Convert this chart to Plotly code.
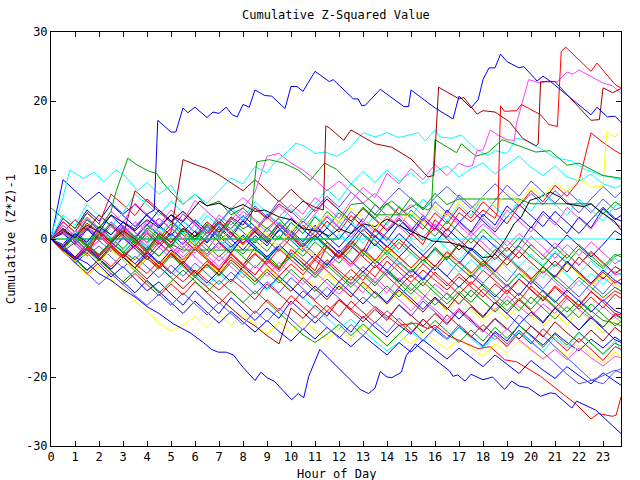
import plotly.graph_objects as go

RED = '#ff0000'; GREEN = '#00a000'; BLUE = '#0000ff'; MAGENTA = '#ff40ff'
CYAN = '#00ffff'; DARKRED = '#a00000'; YELLOW = '#ffff00'; MEDBLUE = '#5050ff'; BLACK = '#000000'

TITLE = "Cumulative Z-Squared Value"
X_LABEL = "Hour of Day"
Y_LABEL = "Cumulative (Z*Z)-1"
HOUR_TICKS = [0, 1, 2, 3, 4, 5, 6, 7, 8, 9, 10, 11, 12, 13, 14, 15, 16, 17, 18, 19, 20, 21, 22, 23]
Y_TICKS = [-30, -20, -10, 0, 10, 20, 30]

# half-hour sampling times
T_HALF = [0, 0.5, 1, 1.5, 2, 2.5, 3, 3.5, 4, 4.5, 5, 5.5, 6, 6.5, 7, 7.5, 8, 8.5, 9, 9.5,
          10, 10.5, 11, 11.5, 12, 12.5, 13, 13.5, 14, 14.5, 15, 15.5, 16, 16.5, 17, 17.5, 18, 18.5, 19, 19.5,
          20, 20.5, 21, 21.5, 22, 22.5, 23, 23.5, 23.75]

# ---- series sampled every half hour ----
m01 = [0,-1.8,-3.5,-2.0,-3.8,-5.5,-4.0,-5.8,-7.5,-6.2,
       -8.0,-9.6,-7.5,-9.2,-10.8,-8.5,-10.2,-11.8,-10.0,-11.5,
       -9.0,-10.6,-12.2,-10.5,-12.0,-13.5,-11.2,-12.8,-14.2,-12.5,
       -13.8,-11.6,-13.2,-14.6,-12.8,-14.2,-15.5,-13.4,-14.8,-12.5,
       -14.0,-15.4,-13.6,-15.0,-16.2,-14.5,-15.8,-14.2,-14.8]
m02 = [0,1.5,0.0,-1.6,0.8,-0.8,-2.4,-1.0,-2.6,-0.5,
       -2.0,-3.6,-1.5,-3.0,-4.5,-2.2,-3.8,-1.2,-2.8,-4.3,
       -2.0,-3.5,-5.0,-3.0,-4.6,-6.0,-4.0,-5.5,-3.2,-4.8,
       -6.3,-4.5,-6.0,-7.4,-5.5,-7.0,-8.4,-6.5,-8.0,-5.8,
       -7.3,-8.8,-6.8,-8.2,-9.6,-7.6,-9.0,-7.5,-8.0]
m03 = [0,-1.5,0.5,-1.0,1.8,0.2,-1.4,0.5,-1.0,-2.5,
       -0.5,1.5,0.0,-1.6,0.8,-0.7,-2.2,-0.2,-1.8,0.5,
       -1.0,-2.5,-0.4,-2.0,-3.5,-1.5,0.8,-0.8,-2.3,-0.5,
       -2.0,-3.6,-1.2,-2.8,-0.6,-2.2,-3.7,-1.5,-3.0,-1.0,
       -2.6,-4.0,-2.0,-3.5,-1.4,-2.9,-4.3,-2.5,-2.2]
m04 = [0,2.5,1.0,3.2,1.6,0.0,2.0,0.4,-1.2,0.5,
       -1.0,-2.6,-0.8,-2.4,-4.0,-2.0,-3.6,-5.2,-3.2,-4.8,
       -2.5,-4.0,-5.6,-3.4,-5.0,-6.5,-4.6,-6.2,-7.8,-5.6,
       -7.2,-8.6,-6.5,-8.0,-9.5,-7.4,-9.0,-10.4,-8.2,-9.8,
       -11.2,-9.4,-10.8,-8.6,-10.2,-11.6,-9.8,-11.3,-12.0]
m05 = [0,-1.8,-3.4,-1.5,-3.0,-1.0,-2.6,-4.2,-2.4,-4.0,
       -5.5,-3.6,-5.2,-6.8,-5.0,-6.5,-4.4,-6.0,-7.5,-5.5,
       -7.0,-8.5,-10.0,-11.5,-13.0,-11.6,-13.2,-14.8,-16.2,-15.0,
       -13.4,-14.9,-13.0,-14.6,-12.8,-14.4,-15.8,-14.0,-15.5,-13.4,
       -15.0,-16.4,-14.2,-15.8,-13.6,-15.2,-16.6,-14.8,-16.2]
m06 = [0,-1.8,-3.6,-5.2,-4.0,-5.8,-7.5,-9.0,-10.5,-12.2,
       -13.3,-12.5,-11.2,-12.8,-11.0,-12.5,-10.8,-12.4,-13.8,-12.0,
       -13.5,-11.8,-13.2,-14.6,-13.0,-14.5,-12.6,-14.0,-15.4,-13.8,
       -15.2,-13.5,-14.8,-16.0,-14.5,-15.8,-17.0,-15.2,-16.5,-14.8,
       -16.2,-17.5,-15.6,-17.0,-15.4,-16.8,-18.0,-16.4,-17.0]
m07 = [0,1.0,-0.8,-2.5,-1.0,-2.6,-4.2,-2.5,-4.0,-5.6,
       -3.8,-5.4,-3.5,-5.0,-6.6,-4.8,-6.4,-8.0,-6.2,-7.8,
       -5.6,-7.2,-8.8,-7.0,-8.6,-10.2,-8.4,-10.0,-11.5,-9.6,
       -11.2,-9.0,-10.6,-12.2,-10.5,-12.0,-13.5,-11.6,-13.2,-11.0,
       -12.6,-14.0,-15.6,-17.2,-18.8,-20.4,-21.0,-19.2,-18.8]
m08 = [0,-1.5,-3.0,-1.2,-2.8,-4.4,-2.6,-4.2,-5.8,-4.0,
       -5.6,-7.2,-5.5,-7.0,-8.6,-10.0,-11.5,-12.6,-14.0,-15.2,
       -10.0,-11.5,-9.6,-11.2,-8.8,-10.4,-12.0,-10.2,-11.8,-9.5,
       -11.0,-12.6,-10.8,-12.4,-10.2,-11.8,-13.3,-11.5,-13.0,-14.5,
       -12.6,-14.2,-12.0,-13.6,-15.0,-13.2,-14.8,-12.8,-13.5]
m09 = [0,-1.2,-2.8,-4.5,-3.0,-4.6,-6.2,-7.8,-6.0,-7.6,
       -9.2,-10.8,-9.0,-10.6,-12.2,-10.5,-12.0,-13.5,-11.8,-13.4,
       -14.8,-13.0,-14.5,-12.8,-14.2,-15.6,-14.0,-15.4,-16.8,-15.0,
       -16.4,-14.6,-16.0,-17.4,-15.8,-17.2,-18.5,-16.8,-18.2,-19.5,
       -17.6,-19.0,-20.2,-18.5,-19.8,-21.0,-19.4,-20.6,-21.2]
m10 = [0,3.0,1.5,4.2,2.6,5.0,3.4,1.8,3.5,2.0,
       0.5,2.6,1.0,-0.6,1.5,0.0,-1.6,0.5,-1.0,1.4,
       -0.2,-1.8,0.4,-1.2,-2.8,-1.0,-2.5,0.5,-1.0,-2.6,
       -0.8,-2.4,-4.0,-2.0,-3.6,-1.5,-3.0,-4.6,-2.8,-4.4,
       -6.0,-4.0,-5.5,-3.2,-4.8,-6.4,-4.5,-6.0,-6.5]
m11 = [0,2.5,1.0,3.8,2.2,6.5,5.0,3.4,5.8,4.2,
       2.6,4.0,2.4,0.8,2.5,0.8,-0.8,1.5,-0.2,-1.8,
       0.2,-1.4,-3.0,-1.2,-2.8,-1.0,-2.6,-4.2,-2.5,-4.0,
       -5.6,-3.6,-5.2,-6.8,-5.0,-6.6,-4.5,-6.0,-7.6,-5.8,
       -7.4,-9.0,-7.0,-8.6,-10.2,-8.4,-10.0,-8.0,-8.6]
m12 = [4.5,3.0,1.5,3.8,2.2,0.6,2.5,1.0,-0.5,1.8,
       0.2,-1.4,0.6,-1.0,-2.6,-1.0,-2.6,-4.2,-2.4,-4.0,
       -2.0,-3.6,-5.2,-3.4,-5.0,-6.6,-4.8,-6.4,-4.4,-6.0,
       -7.5,-5.6,-7.2,-8.8,-6.8,-8.4,-6.5,-8.0,-9.6,-7.8,
       -9.4,-7.4,-9.0,-10.6,-8.8,-10.4,-11.8,-12.2,-12.6]
m13 = [0,-1.0,-2.6,-1.2,0.8,-0.8,2.5,1.0,-0.6,1.2,
       -0.4,-2.0,0.0,-1.6,-3.2,-1.5,0.5,-1.0,-2.6,-1.0,
       0.6,-1.0,-2.6,-4.2,-2.5,-4.0,-2.0,-3.6,-5.2,-3.5,
       -5.0,-3.0,-4.6,-2.5,-4.0,-5.6,-3.8,-5.4,-7.0,-5.0,
       -6.6,-4.6,-6.2,-7.8,-6.0,-7.6,-5.5,-7.0,-7.6]
m14 = [0,-1.6,-0.2,-1.8,0.6,-1.0,1.8,0.2,-1.4,0.5,
       2.8,1.2,-0.4,1.5,0.0,-1.6,0.4,-1.2,-2.8,-1.0,
       -2.6,-0.5,1.8,0.2,2.5,1.0,-0.6,1.2,-0.4,-2.0,
       -0.2,-1.8,0.2,-1.4,-3.0,-1.2,-2.8,-0.8,-2.4,-4.0,
       -2.2,-3.8,-1.8,-3.4,-5.0,-3.2,-4.8,-2.8,-3.4]
m15 = [0,-1.4,0.5,-1.0,-2.6,-0.8,-2.4,-4.0,-2.2,-3.8,
       -1.8,-3.4,-5.0,-3.3,-4.9,-2.8,-4.4,-6.0,-4.2,-5.8,
       -7.4,-5.4,-7.0,-5.0,-6.6,-8.2,-6.4,-8.0,-9.6,-7.6,
       -9.2,-7.2,-8.8,-10.4,-8.6,-10.2,-11.8,-10.0,-11.6,-9.5,
       -11.0,-12.6,-10.8,-12.4,-10.4,-12.0,-13.6,-11.8,-12.2]
m16 = [0,2.0,0.4,2.8,1.2,-0.4,1.6,0.0,2.2,0.6,
       -1.0,1.0,-0.6,-2.2,-0.4,-2.0,0.2,-1.4,-3.0,-1.2,
       -2.8,-0.6,-2.2,-3.8,-2.0,-3.6,-1.4,-3.0,-4.6,-2.6,
       -4.2,-5.8,-3.8,-5.4,-3.2,-4.8,-6.4,-4.6,-6.2,-4.0,
       -5.6,-7.2,-5.2,-6.8,-8.4,-6.4,-8.0,-6.0,-6.6]
m17 = [0,-1.6,-3.2,-1.5,-3.0,-1.2,-2.8,-0.8,-2.4,-4.0,
       -2.2,-3.8,-5.4,-3.6,-5.2,-3.0,-4.6,-6.2,-4.4,-6.0,
       -7.6,-5.6,-7.2,-8.8,-6.8,-8.4,-6.2,-7.8,-9.4,-7.4,
       -9.0,-10.6,-8.6,-10.2,-8.0,-9.6,-11.2,-9.2,-10.8,-8.8,
       -10.4,-12.0,-10.0,-11.6,-13.2,-11.2,-12.8,-10.8,-11.4]
m18 = [0,8.6,7.0,5.4,6.8,5.2,3.6,5.0,3.4,1.8,
       3.5,1.9,0.3,2.0,0.4,-1.2,0.6,-1.0,-2.6,-0.8,
       -2.4,-4.0,-2.2,-3.8,-1.6,-3.2,-4.8,-3.0,-4.6,-6.2,
       -4.4,-6.0,-3.8,-5.4,-7.0,-5.2,-6.8,-8.4,-6.6,-8.2,
       -6.0,-7.6,-9.2,-7.4,-9.0,-10.6,-8.8,-10.4,-10.8]
m19 = [0,-1.8,-3.4,-5.0,-3.4,-5.0,-6.6,-5.0,-6.6,-8.2,
       -6.5,-8.1,-6.2,-7.8,-9.4,-7.6,-9.2,-10.8,-8.8,-10.4,
       -8.2,-9.8,-11.4,-9.6,-11.2,-9.0,-10.6,-12.2,-10.4,-12.0,
       -13.6,-11.6,-13.2,-11.0,-12.6,-14.2,-12.4,-14.0,-15.6,-13.6,
       -15.2,-13.0,-14.6,-16.2,-14.4,-16.0,-17.6,-15.6,-16.0]
m20 = [0,-1.4,-3.0,-4.6,-3.0,-4.6,-6.2,-4.6,-6.2,-7.8,
       -6.2,-4.5,-6.1,-7.7,-6.0,-7.6,-9.2,-7.5,-9.1,-10.7,
       -12.3,-13.9,-15.0,-13.8,-12.4,-14.0,-12.3,-13.9,-15.5,-13.8,
       -12.0,-13.6,-11.8,-13.4,-15.0,-13.2,-14.8,-12.8,-14.4,-12.5,
       -14.1,-15.7,-13.8,-15.4,-13.5,-15.1,-16.7,-15.1,-15.5]
m21 = [0,1.6,0.0,-1.6,-0.2,1.8,0.2,-1.4,0.4,-1.2,
       -2.8,-1.0,-2.6,-4.2,-2.4,-4.0,-5.6,-3.8,-5.4,-3.4,
       -5.0,-6.6,-4.8,-6.4,-8.0,-6.2,-7.8,-5.6,-7.2,-8.8,
       -10.4,-8.6,-10.2,-11.8,-10.0,-11.6,-13.2,-14.6,-13.0,-14.6,
       -16.0,-17.4,-16.0,-17.5,-15.8,-17.2,-18.4,-17.0,-17.2]
m22 = [0,3.5,2.0,5.0,3.4,1.8,3.8,6.5,5.0,3.4,
       5.5,3.8,2.2,4.0,2.4,0.8,2.8,1.2,-0.4,1.5,
       -0.1,-1.7,0.2,-1.4,0.8,-0.8,-2.4,-0.6,-2.2,-3.8,
       -2.0,-3.6,-1.6,-3.2,-4.8,-3.0,-4.6,-2.6,-4.2,-5.8,
       -4.0,-5.6,-3.6,-5.2,-6.8,-5.0,-6.6,-4.6,-5.2]
m23 = [0,1.2,-0.4,2.2,0.6,-1.0,0.8,-0.8,1.5,-0.1,
       2.4,0.8,-0.8,1.0,-0.6,-2.2,-0.4,-2.0,0.4,-1.2,
       -2.8,-1.0,-2.6,-0.4,-2.0,-3.6,-1.8,-3.4,-1.2,-2.8,
       -4.4,-2.6,-4.2,-2.0,-3.6,-5.2,-3.4,-5.0,-2.8,-4.4,
       -6.0,-4.2,-5.8,-3.6,-5.2,-6.8,-5.0,-6.6,-7.0]
m24 = [0,-1.0,-2.6,-0.8,-2.4,-0.4,-2.0,-3.6,-1.8,-3.4,
       -5.0,-3.2,-4.8,-6.4,-4.6,-6.2,-4.0,-5.6,-7.2,-5.4,
       -7.0,-8.6,-6.8,-8.4,-6.2,-7.8,-9.4,-7.6,-9.2,-7.0,
       -8.6,-10.2,-8.4,-10.0,-11.6,-9.8,-11.4,-9.2,-10.8,-12.4,
       -10.6,-12.2,-10.0,-11.6,-13.2,-11.4,-13.0,-14.6,-15.0]
m25 = [0,-0.8,1.2,-0.4,1.6,3.4,1.8,0.2,2.0,4.2,
       2.6,1.0,2.8,1.2,-0.4,1.5,3.4,1.8,0.2,2.2,
       0.6,-1.0,1.2,-0.4,-2.0,-0.2,2.0,0.4,-1.2,0.8,
       -0.8,-2.4,-0.6,1.5,-0.1,-1.7,0.5,-1.1,-2.7,-0.8,
       1.8,0.2,-1.4,0.6,-1.0,-2.6,-0.8,1.2,0.6]
m26 = [0,-1.5,-3.1,-1.4,-3.0,-1.0,-2.6,-4.2,-2.4,-4.0,
       -2.0,-3.6,-1.2,-2.8,-4.4,-2.6,-4.2,-2.2,-3.8,-5.4,
       -3.6,-5.2,-3.0,-4.6,-6.2,-4.4,-6.0,-3.8,-5.4,-7.0,
       -5.2,-6.8,-4.8,-6.4,-8.0,-6.2,-7.8,-9.4,-7.4,-9.0,
       -6.8,-8.4,-10.0,-8.2,-9.8,-7.6,-9.2,-10.8,-11.0]
m27 = [0,-1.8,-3.4,-5.0,-6.6,-5.0,-6.6,-8.2,-9.6,-8.0,
       -9.6,-7.8,-9.4,-11.0,-9.2,-10.8,-12.4,-10.4,-12.0,-10.0,
       -11.6,-13.2,-11.2,-12.8,-14.4,-12.4,-14.0,-12.0,-13.6,-11.5,
       -13.1,-14.7,-12.8,-14.4,-12.4,-14.0,-15.6,-13.6,-15.2,-13.2,
       -14.8,-16.4,-18.0,-19.6,-21.0,-20.5,-19.8,-19.0,-19.4]
m28 = [0,1.0,2.8,1.2,3.5,2.0,0.4,7.0,5.5,4.0,
       2.4,4.0,2.4,0.8,2.6,1.0,-0.6,1.2,-0.4,2.0,
       0.4,-1.2,0.6,-1.0,-2.6,-0.8,1.4,-0.2,-1.8,0.0,
       -1.6,-3.2,-1.4,-3.0,-0.8,-2.4,-4.0,-2.2,-3.8,-1.8,
       -3.4,-5.0,-3.2,-4.8,-2.6,-4.2,-5.8,-4.0,-4.5]
m29 = [0,-1.6,-3.2,-1.6,-3.2,-1.4,-3.0,-4.6,-2.8,-4.4,
       -2.4,-4.0,-5.6,-3.8,-5.4,-3.4,-5.0,-6.6,-4.8,-6.4,
       -4.4,-6.0,-7.6,-5.8,-7.4,-5.4,-7.0,-8.6,-6.8,-8.4,
       -6.4,-8.0,-9.6,-7.8,-9.4,-7.4,-9.0,-10.6,-8.8,-10.4,
       -8.4,-10.0,-11.6,-9.8,-11.4,-9.4,-11.0,-12.6,-12.0]
m30 = [0,2.0,0.4,3.0,1.4,4.0,2.4,5.2,3.6,2.0,
       4.2,2.6,5.6,4.0,2.4,4.4,6.0,4.4,2.8,4.8,
       3.2,1.6,3.6,5.8,4.2,2.6,4.6,3.0,1.4,3.4,
       1.8,0.2,2.2,0.6,-1.0,1.0,-0.6,-2.2,-0.2,-1.8,
       0.4,-1.2,-2.8,-0.8,-2.4,-0.4,-2.0,-3.6,-3.0]
m31 = [0,-1.0,1.2,-0.4,1.6,0.0,-1.6,0.6,-1.0,1.8,
       0.2,2.6,1.0,3.4,1.8,4.6,3.0,5.4,3.8,2.2,
       4.4,2.8,5.0,7.2,5.6,8.0,9.8,8.2,10.0,8.4,
       9.6,8.0,9.8,10.6,9.0,10.2,11.0,9.4,10.8,12.0,
       10.4,9.2,10.6,9.0,8.4,9.4,8.0,7.4,7.8]
m32 = [0,1.4,-0.2,1.8,0.2,2.5,0.9,-0.7,1.4,3.0,
       1.4,3.6,2.0,0.4,2.4,4.2,2.6,4.8,3.2,5.6,
       4.0,2.4,4.4,6.2,4.6,6.8,5.2,3.6,5.6,7.4,
       5.8,4.2,6.0,7.6,6.0,4.4,6.2,8.0,6.4,4.8,
       6.6,5.0,7.0,5.4,3.8,5.8,7.6,6.0,6.8]
m33 = [0,0.8,-0.8,1.4,-0.2,-1.8,0.2,-1.4,-3.0,-1.2,
       0.8,-0.8,1.2,-0.4,1.8,0.2,2.6,1.0,-0.6,1.2,
       3.0,1.4,-0.2,1.6,0.0,2.2,0.6,-1.0,1.0,2.8,
       1.2,3.4,1.8,0.2,2.4,4.2,2.6,1.0,3.2,5.0,
       3.4,1.8,4.0,2.4,0.8,2.8,4.6,3.0,2.6]
m34 = [0,-1.2,0.8,-0.8,-2.4,-0.6,1.4,-0.2,-1.8,0.2,
       -1.4,-3.0,-1.0,-2.6,-0.6,-2.2,-3.8,-2.0,-3.6,-1.4,
       -3.0,-4.6,-2.8,-0.5,-2.1,-3.7,-1.6,-3.2,-1.0,-2.6,
       -4.2,-2.4,-4.0,-1.8,-3.4,-5.0,-3.2,-4.8,-2.6,-4.2,
       -5.8,-4.0,-5.6,-3.4,-5.0,-6.6,-4.8,-6.4,-5.8]
m35 = [0,-1.2,0.6,-1.0,-2.6,-0.8,-2.4,-0.6,1.2,-0.4,
       1.6,0.0,-1.6,0.4,2.2,0.6,2.8,1.2,3.6,2.0,
       0.4,2.6,1.0,3.2,1.6,4.0,2.4,5.0,3.4,1.8,
       4.2,2.6,5.4,3.8,6.4,4.8,3.2,5.6,7.8,6.2,
       8.4,6.8,5.2,7.0,5.4,3.8,5.8,4.2,4.6]
m36 = [0,-1.4,-3.0,-1.2,-2.8,-4.4,-2.6,-4.2,-2.0,-3.6,
       -1.6,-3.2,-1.0,-2.6,-0.4,-2.0,0.2,-1.4,-3.0,-1.0,
       1.2,-0.4,2.0,0.4,-1.2,0.8,3.0,1.4,-0.2,2.2,
       0.6,3.0,1.4,4.2,2.6,1.0,3.6,2.0,4.8,3.2,
       1.6,4.0,2.4,0.8,3.2,1.6,4.4,2.8,3.4]
m37 = [0,1.2,-0.4,-2.0,-0.2,-1.8,0.4,-1.2,1.0,-0.6,
       -2.2,-0.4,-2.0,0.2,-1.4,0.8,-0.8,1.6,0.0,2.2,
       0.6,-1.0,1.2,3.4,1.8,0.2,2.6,1.0,3.4,1.8,
       0.2,2.8,1.2,4.0,2.4,0.8,3.0,1.4,4.2,2.6,
       1.0,3.6,2.0,4.6,3.0,1.4,3.8,2.2,1.8]
m38 = [0,-1.0,0.8,-0.8,1.2,-0.4,-2.0,-0.2,-1.8,0.4,
       -1.2,1.0,-0.6,1.8,0.2,2.6,1.0,-0.6,1.6,0.0,
       2.4,0.8,3.4,1.8,4.2,2.6,1.0,3.6,2.0,4.8,
       3.2,5.8,4.2,2.6,5.0,3.4,6.2,4.6,3.0,5.6,
       4.0,6.6,5.0,3.4,5.8,4.2,2.6,4.8,5.2]
dr2 = [0,1.2,-0.4,1.6,0.0,2.2,0.6,-1.0,0.8,-0.8,
       1.0,11.5,10.8,10.2,9.3,8.2,7.0,8.6,7.0,5.4,
       7.2,5.6,4.0,5.8,4.2,2.6,4.4,2.8,1.2,3.0,
       1.4,-0.2,1.6,0.0,-1.6,0.2,-1.4,-3.0,-1.2,-2.8,
       -0.8,-2.4,-4.0,-2.2,-3.8,-1.8,-3.4,-5.0,-4.4]
mg2 = [0,-1.2,0.6,-1.0,1.4,-0.2,1.8,0.2,2.6,1.0,
       -0.6,1.4,-0.2,2.0,0.4,2.8,4.5,6.8,12.0,12.4,
       11.0,10.0,8.6,7.0,8.4,6.8,5.2,6.6,5.0,3.4,
       5.0,3.4,1.8,3.6,2.0,0.4,2.2,0.6,-1.0,0.8,
       -0.8,-2.4,-0.6,-2.2,-3.8,-2.0,-3.6,-5.2,-5.0]
rd2 = [0,-1.0,0.8,-0.8,-2.4,-0.6,1.2,-0.4,-2.0,-0.2,
       1.6,0.0,-1.6,0.2,2.4,0.8,-0.8,1.0,3.2,1.6,
       0.0,2.0,0.4,2.6,1.0,3.4,1.8,0.2,2.4,4.6,
       3.0,1.4,3.8,2.2,4.6,3.0,5.4,3.8,2.2,4.8,
       7.0,5.4,7.8,6.2,8.4,15.4,14.0,12.8,12.3]
gr2 = [0,-1.2,0.3,-0.8,-2.2,-0.5,-1.8,-3.0,-1.2,-2.5,
       -0.8,-1.6,-1.6,-1.6,-1.6,-1.6,-1.6,-1.6,-2.8,-4.2,
       -2.5,-4.0,-5.6,-3.8,-5.4,-7.0,-5.2,-6.8,-4.8,-6.4,
       -8.0,-6.2,-7.8,-9.4,-7.6,-9.2,-7.2,-8.8,-10.4,-8.6,
       -10.2,-8.2,-9.8,-11.4,-9.6,-11.2,-12.8,-11.0,-11.5]
gr3 = [0,1.5,0.0,-1.6,0.4,-1.2,1.0,-0.6,1.6,0.0,
       2.2,0.6,-1.0,1.0,3.0,1.4,-0.2,1.8,0.2,2.4,
       0.8,3.0,1.4,4.0,2.4,5.0,5.2,3.5,3.5,3.5,
       3.5,2.0,0.4,2.6,1.0,-0.6,1.4,-0.2,-1.8,0.2,
       -1.4,-3.0,-1.2,-2.8,-0.8,-2.4,-4.0,-2.2,-2.6]
gr4 = [0,-1.4,0.4,-1.2,1.2,-0.4,-2.0,-0.2,-1.8,0.4,
       -1.2,1.4,-0.2,1.8,0.2,2.6,1.0,-0.6,1.6,0.0,
       2.4,0.8,3.2,1.6,3.8,2.2,4.6,3.0,5.2,3.6,
       6.0,4.4,6.6,5.0,5.8,5.8,5.8,5.8,5.8,5.8,
       5.1,5.1,5.1,5.1,5.1,5.1,3.6,5.4,4.8]

# ---- series traced vertex by vertex (hour, value) ----
top_blue = [(0,0),(0.5,-1.2),(1,0.8),(1.5,-0.5),(2,1.8),(2.5,0.6),(3,2.5),(3.5,1.4),(4,3.6),(4.3,4.2),
            (4.45,17.2),(5.0,15.5),(5.2,15.5),(5.5,19.0),(5.7,18.3),(6.0,19.1),(6.5,17.6),(6.75,18.4),(7.0,18.2),
            (7.3,19.1),(7.55,18.0),(7.76,17.7),(8.0,19.5),(8.26,19.1),(8.5,21.6),(8.9,20.8),(9.2,20.7),(9.75,18.9),
            (10.0,22.1),(10.25,22.1),(10.5,21.4),(11.0,24.3),(11.2,23.8),(11.6,22.8),(11.76,23.1),(12.6,20.3),
            (12.8,20.3),(12.95,19.3),(13.1,19.4),(13.72,21.7),(14.7,19.2),(14.9,19.2),(15.0,21.6),(16.0,19.0),
            (16.75,17.4),(17.0,20.7),(17.5,19.0),(17.8,20.2),(18.0,23.1),(18.25,24.8),(18.5,24.8),(18.73,26.8),
            (19.0,25.7),(19.5,24.8),(19.7,25.0),(20.25,22.9),(20.5,23.6),(20.75,23.0),(22.5,18.0),(22.75,19.1),
            (23.18,17.7),(23.5,17.8),(23.75,16.9)]
bottom_blue = [(0,0),(0.5,-1.5),(1,-2.6),(1.5,-3.5),(2,-5.0),(2.5,-6.0),(3,-7.3),(3.5,-8.4),(4,-9.8),(4.5,-10.8),
               (5.1,-12.3),(5.8,-13.6),(6.35,-15.0),(6.69,-16.0),(6.97,-16.4),(7.3,-16.4),(7.6,-16.8),(8.0,-18.6),
               (8.5,-20.5),(8.75,-19.3),(9.0,-20.1),(9.3,-20.6),(10.03,-23.3),(10.3,-22.4),(10.53,-23.0),
               (10.74,-19.9),(11.0,-17.7),(11.2,-16.0),(11.63,-17.5),(12.88,-21.8),(13.23,-22.4),(13.5,-21.6),
               (13.72,-19.2),(14.0,-20.0),(14.2,-20.1),(14.6,-19.3),(14.8,-16.9),(15.18,-15.2),(16.6,-19.1),
               (16.75,-19.9),(16.95,-19.7),(17.25,-20.6),(17.5,-19.6),(18.0,-20.4),(18.4,-20.0),(18.9,-21.8),
               (19.2,-20.6),(19.5,-21.3),(19.9,-21.6),(20.4,-22.8),(20.8,-22.3),(21.0,-22.4),(21.7,-24.5),
               (21.9,-23.5),(22.7,-24.8),(23.4,-27.0),(23.75,-28.2)]
top_red = [(0,0),(0.5,-1.8),(1,-0.5),(1.5,-2.2),(2,0.8),(2.5,-0.9),(3,-2.5),(3.5,-1.0),(4,-2.8),(4.5,-4.2),
           (5,-2.0),(5.5,-3.5),(6,-5.0),(6.5,-3.2),(7,-4.6),(7.5,-2.1),(8,-3.8),(8.5,-5.2),(9,-3.0),(9.5,-4.5),
           (10,-1.5),(10.5,-3.0),(11,-4.6),(11.5,-1.0),(12,-2.6),(12.5,-0.2),(13,-1.8),(13.5,1.5),(14,0.2),
           (14.5,-1.5),(15,0.8),(15.5,-0.8),(16,2.8),(16.5,1.2),(17,3.8),(17.5,2.5),(18,4.2),(18.5,3.0),
           (18.62,4.0),(18.73,19.3),(18.9,18.5),(19.4,18.6),(19.6,19.5),(20.4,18.0),(20.74,16.6),(21.1,16.3),
           (21.26,27.2),(21.45,27.8),(22.5,24.3),(22.75,25.5),(23.5,22.4),(23.75,21.9)]
top_darkred = [(0,0),(0.5,1.5),(1,0.2),(1.5,2.3),(2,1.0),(2.5,-0.5),(3,1.2),(3.5,0.0),(4,-1.6),(4.5,0.8),
               (5,-0.5),(5.5,1.6),(6,0.4),(6.5,2.5),(7,1.0),(7.5,3.2),(8,2.0),(8.5,4.5),(9,3.0),(9.5,5.1),
               (10,3.8),(10.5,5.5),(11,4.6),(11.35,4.2),(11.45,16.4),(11.6,16.1),(12.2,14.3),(12.5,15.8),
               (13.5,13.8),(14.2,13.3),(15.0,11.6),(15.7,9.0),(15.95,9.2),(16.15,22.0),(16.5,21.3),(17.0,20.3),
               (17.2,20.5),(17.75,18.1),(18.0,18.6),(18.5,18.4),(19.1,17.0),(19.65,14.6),(20.2,13.5),(20.3,13.8),
               (20.4,22.8),(21.0,22.8),(22.5,17.2),(22.85,17.3),(23.0,21.9),(23.4,21.2),(23.75,21.8)]
top_magenta = [(0,0),(0.5,1.2),(1,-0.3),(1.5,1.8),(2,0.5),(2.5,-1.0),(3,0.6),(3.5,2.5),(4,1.1),(4.5,3.0),
               (5,1.5),(5.5,0.0),(6,2.2),(6.5,0.8),(7,3.5),(7.5,2.0),(8,4.0),(8.5,2.6),(9,1.0),(9.5,3.2),
               (10,5.0),(10.5,3.6),(11,6.0),(11.5,4.5),(12,3.0),(12.5,5.5),(13,7.5),(13.5,6.0),(14,9.5),
               (14.5,8.0),(15,10.2),(15.5,8.6),(16,10.8),(16.5,9.2),(17,11.0),(17.3,10.5),(17.55,10.6),
               (17.75,12.8),(18.0,12.9),(18.3,15.8),(18.7,14.9),(19.0,14.4),(19.3,14.3),(19.4,16.8),(19.9,23.1),
               (20.4,22.6),(20.7,22.9),(21.1,22.8),(21.5,24.2),(21.75,23.9),(22.0,24.5),(23.0,22.6),(23.4,22.2),
               (23.75,21.1)]
top_cyan = [(0,0.5),(0.5,6.0),(0.78,10.0),(1.35,8.8),(1.8,9.7),(2.2,8.3),(2.7,10.0),(3.1,9.1),(3.6,7.0),
            (4.0,8.2),(4.5,6.5),(5.0,7.8),(5.5,5.0),(6.0,6.5),(6.5,5.2),(7.0,7.0),(7.5,8.8),(8.0,8.0),
            (8.5,10.5),(9.0,9.6),(9.3,11.0),(9.82,12.5),(10.2,13.9),(10.6,13.4),(11.0,12.4),(11.4,12.6),
            (11.9,12.0),(12.4,13.0),(13.0,15.4),(13.5,14.8),(14.0,15.4),(14.5,14.7),(15.3,15.4),(15.6,14.2),
            (16.0,15.8),(16.2,14.8),(16.7,14.6),(17.1,15.1),(17.7,13.0),(18.2,12.1),(18.5,12.8),(19.0,12.4),
            (19.4,14.6),(19.7,14.4),(20.3,13.3),(21.0,11.8),(21.7,11.3),(22.3,10.0),(23.0,9.2),(23.75,8.6)]
early_green = [(0,0),(0.5,1.5),(1,0.2),(1.5,2.8),(2,1.5),(2.5,4.0),(2.7,6.8),(3.2,11.7),(3.6,10.7),(4.1,9.8),
               (4.4,9.5),(4.7,8.0),(5.0,6.8),(5.5,5.0),(6.0,6.5),(6.5,4.8),(7.0,5.5),(7.5,3.5),(8.0,4.5),
               (8.5,2.8),(9.0,1.5),(9.5,3.0),(10.0,1.0),(10.5,-0.8),(11.0,0.5),(11.5,-1.2),(12.0,-2.5),
               (12.5,-0.5),(13.0,-2.0),(13.5,-3.6),(14.0,-1.8),(14.5,-3.3),(15.0,-4.8),(15.5,-3.0),(16.0,-4.5),
               (16.5,-2.5),(17.0,-4.0),(17.5,-5.5),(18.0,-3.5),(18.5,-5.2),(19.0,-6.8),(19.5,-5.0),(20.0,-6.5),
               (20.5,-4.0),(21.0,-5.8),(21.5,-7.3),(22.0,-5.5),(22.5,-7.0),(23.0,-8.5),(23.5,-7.0),(23.75,-7.5)]
upper_green = [(0,0),(0.5,-1.5),(1,0.5),(1.5,-1.0),(2,1.2),(2.5,-0.3),(3,1.8),(3.5,0.3),(4,2.0),(4.5,0.5),
               (5,-1.0),(5.5,1.5),(6,0.0),(6.5,2.2),(7,0.8),(7.5,3.0),(8.0,1.5),(8.3,2.0),(8.57,11.2),(9.1,11.5),
               (9.7,11.0),(10.3,10.0),(10.8,8.5),(11.4,11.0),(11.9,10.1),(12.5,8.0),(13.0,6.5),(13.7,4.4),
               (14.2,5.5),(14.7,4.0),(15.2,5.0),(15.7,4.2),(15.85,4.6),(16.0,14.4),(16.9,12.5),(17.1,13.8),
               (17.7,12.0),(18.2,12.5),(18.8,14.4),(19.6,13.4),(20.2,12.6),(20.8,12.8),(21.5,10.7),(22.0,11.0),
               (23.0,9.2),(23.4,9.0),(23.75,8.8)]
late_yellow = [(0,0),(0.5,-1.8),(1,-3.2),(1.5,-2.0),(2,-3.5),(2.5,-1.5),(3,-3.0),(3.5,-4.5),(4,-2.8),(4.5,-4.2),
               (5,-1.8),(5.5,-3.2),(6,-1.0),(6.5,-2.6),(7,-0.5),(7.5,1.5),(8,0.0),(8.5,2.0),(9,0.6),(9.5,-1.0),
               (10,1.2),(10.5,3.0),(11,1.5),(11.5,3.8),(12,2.4),(12.5,4.5),(13,3.0),(13.5,1.5),(14,3.5),
               (14.5,2.0),(15,4.0),(15.5,2.4),(16,4.8),(16.5,3.2),(17,5.5),(17.5,4.0),(18,6.2),(18.5,4.6),
               (19,6.8),(19.5,5.2),(20,7.5),(20.5,6.0),(21,8.2),(21.5,6.8),(22,8.8),(22.5,7.5),(23.0,7.7),
               (23.15,15.5),(23.5,14.8),(23.75,15.6)]
low_red = [(0,0),(0.5,-1.5),(1,-2.8),(1.5,-1.2),(2,-2.5),(2.5,-4.0),(3,-2.2),(3.5,-3.6),(4,-5.0),(4.5,-3.2),
           (5,-4.8),(5.5,-6.2),(6,-4.5),(6.5,-6.0),(7,-7.4),(7.5,-5.8),(8,-7.2),(8.5,-8.8),(9,-6.5),(9.5,-8.0),
           (10,-9.5),(10.5,-7.5),(11,-9.0),(11.5,-10.5),(12,-8.8),(12.5,-10.2),(13,-11.5),(13.5,-9.8),
           (14,-11.2),(14.5,-12.5),(15.2,-12.2),(15.7,-13.0),(16.0,-12.5),(16.6,-14.1),(17.2,-15.0),
           (17.8,-15.9),(18.3,-15.6),(18.9,-17.5),(19.4,-17.8),(19.9,-18.8),(20.4,-19.9),(21.2,-22.1),
           (21.9,-24.0),(22.5,-26.1),(22.8,-25.3),(23.4,-25.7),(23.55,-25.5),(23.75,-22.9)]
black_line = [(0,0),(0.5,1.2),(1.0,0.2),(1.5,2.0),(2.0,1.0),(2.5,3.5),(3.0,2.4),(3.5,1.2),(4.0,2.8),(4.5,1.6),
              (5.0,3.5),(5.5,2.5),(6.2,5.5),(6.5,4.8),(7.0,5.2),(7.5,4.3),(8.0,5.0),(8.5,4.0),(8.9,4.2),
              (9.5,3.2),(10.0,2.8),(10.5,1.5),(11.2,1.1),(11.6,0.4),(12.0,1.5),(12.5,0.8),(13.0,2.2),(13.5,1.8),
              (14.0,2.9),(15.0,1.1),(15.9,-0.3),(16.6,-0.5),(17.6,-1.5),(18.0,-2.7),(18.4,-2.5),(18.9,-0.2),
              (19.3,2.2),(19.6,3.2),(19.95,5.6),(20.4,6.1),(20.8,6.8),(21.2,6.1),(21.5,5.1),(22.2,4.7),
              (22.5,5.1),(23.0,3.7),(23.5,2.5),(23.75,1.3)]
flat_cyan = [(0,0),(23.75,0)]
flat_green = [(0,0),(12.0,0)]

GRID_SERIES = [
    ("m01", m01, BLUE), ("m02", m02, RED), ("m03", m03, GREEN), ("m04", m04, MAGENTA),
    ("m05", m05, CYAN), ("m06", m06, YELLOW), ("m07", m07, MEDBLUE), ("m08", m08, DARKRED),
    ("m09", m09, BLUE), ("m10", m10, BLUE), ("m11", m11, RED), ("m12", m12, GREEN),
    ("m13", m13, MAGENTA), ("m14", m14, CYAN), ("m15", m15, YELLOW), ("m16", m16, MEDBLUE),
    ("m17", m17, DARKRED), ("m18", m18, BLUE), ("m19", m19, RED), ("m20", m20, GREEN),
    ("m21", m21, MAGENTA), ("m22", m22, CYAN), ("m23", m23, YELLOW), ("m24", m24, BLUE),
    ("m25", m25, BLUE), ("m26", m26, RED), ("m27", m27, MEDBLUE), ("m28", m28, DARKRED),
    ("m29", m29, GREEN), ("m30", m30, MAGENTA), ("m31", m31, CYAN), ("m32", m32, MEDBLUE),
    ("m33", m33, BLUE), ("m34", m34, RED), ("m35", m35, MEDBLUE), ("m36", m36, BLUE),
    ("m37", m37, MAGENTA), ("m38", m38, CYAN), ("dr2", dr2, DARKRED), ("mg2", mg2, MAGENTA),
    ("rd2", rd2, RED), ("gr2", gr2, GREEN), ("gr3", gr3, GREEN), ("gr4", gr4, GREEN),
]
FLAT_SERIES = [(flat_cyan, CYAN), (flat_green, GREEN)]
TRACED_SERIES = [
    (early_green, GREEN), (top_cyan, CYAN), (black_line, BLACK), (late_yellow, YELLOW),
    (upper_green, GREEN), (low_red, RED), (top_magenta, MAGENTA), (top_darkred, DARKRED),
    (top_red, RED), (bottom_blue, BLUE), (top_blue, BLUE),
]

fig = go.Figure()

def add_line(xs, ys, color):
    fig.add_trace(go.Scatter(x=xs, y=ys, mode="lines", line=dict(color=color, width=1),
                             hoverinfo="skip", showlegend=False))

for name, vals, color in GRID_SERIES:
    if len(vals) != len(T_HALF):
        raise ValueError(f"{name} has {len(vals)} values")
    add_line(T_HALF, vals, color)

for pts, color in FLAT_SERIES + TRACED_SERIES:
    add_line([p[0] for p in pts], [p[1] for p in pts], color)

FONT = "DejaVu Sans Mono"
axis_common = dict(showgrid=False, zeroline=False, showline=True, linecolor="black", linewidth=1,
                   mirror="ticks", ticks="inside", ticklen=5, tickcolor="black", tickwidth=1,
                   tickfont=dict(family=FONT, size=12, color="black"))

fig.update_layout(
    width=640, height=480,
    margin=dict(l=51, r=19, t=32, b=34),
    paper_bgcolor="white", plot_bgcolor="white",
    hovermode=False,
    xaxis=dict(range=[0, 23.75], tickvals=HOUR_TICKS, ticktext=[str(h) for h in HOUR_TICKS], **axis_common),
    yaxis=dict(range=[-30, 30], tickvals=Y_TICKS, ticktext=[str(v) for v in Y_TICKS], **axis_common),
    annotations=[
        dict(text=TITLE, xref="paper", yref="paper", x=0.5, y=1, yanchor="middle", yshift=17,
             showarrow=False, font=dict(family=FONT, size=12, color="black")),
        dict(text=X_LABEL, xref="paper", yref="paper", x=0.5, y=0, yanchor="middle", yshift=-28,
             showarrow=False, font=dict(family=FONT, size=12, color="black")),
        dict(text=Y_LABEL, xref="paper", yref="paper", x=0, y=0.5, xanchor="center", xshift=-40,
             textangle=-90, showarrow=False, font=dict(family=FONT, size=12, color="black")),
    ],
)

# remove the browser's default 8px body margin so the 640x480 figure fills the window exactly
fig.write_html("out.html", config={"displayModeBar": False, "staticPlot": True},
               post_script="document.body.style.margin='0';")
